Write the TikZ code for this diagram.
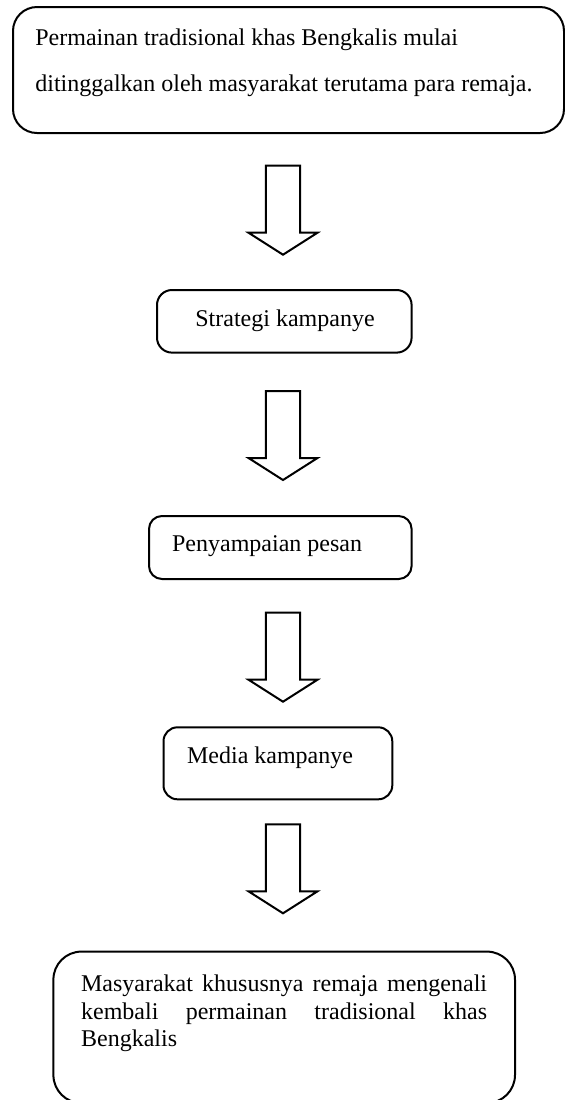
\documentclass[tikz,border=0pt]{standalone}
\usepackage{fontspec}
\setmainfont{Liberation Serif}
\usetikzlibrary{calc}
\tikzset{
  box/.style={draw=black, line width=1pt, fill=white, inner sep=0pt},
  txt/.style={inner sep=0pt, font={\fontsize{12}{13.75}\selectfont}},
  arrowline/.style={draw=black, line width=1pt, line join=miter, fill=white},
  downarrow/.pic={\path[arrowline] (-17.2,0) -- (17.2,0) -- (17.2,67) -- (34.5,67) -- (0,89) -- (-34.5,67) -- (-17.2,67) -- cycle;}
}
\begin{document}
\begin{tikzpicture}[x=0.5pt,y=-0.5pt]
\useasboundingbox (0,0) rectangle (565,1100);
\fill[white] (0,0) rectangle (565,1100);
% boxes
\node[box, minimum width=275.5pt, minimum height=63pt, rounded corners=12pt] (b1) at (288.5,70) {};
\node[box, minimum width=127.3pt, minimum height=31.3pt, rounded corners=7.5pt] (b2) at (284.3,321.3) {};
\node[box, minimum width=131.3pt, minimum height=31.5pt, rounded corners=6.5pt] (b3) at (280.3,547.5) {};
\node[box, minimum width=114.4pt, minimum height=36pt, rounded corners=7pt] (b4) at (277.9,763.3) {};
\node[box, minimum width=230.8pt, minimum height=75.7pt, rounded corners=14pt] (b5) at (284.2,1027.3) {};
% texts
\node[txt, anchor=base west, align=left, font={\fontsize{12}{23.25}\selectfont}] (t1) at (35,91.5)
  {Permainan tradisional khas Bengkalis mulai\\ditinggalkan oleh masyarakat terutama para remaja.};
\node[txt, anchor=base west] (t2) at (195,326.7) {Strategi kampanye};
\node[txt, anchor=base west] (t3) at (171.7,551.7) {Penyampaian pesan};
\node[txt, anchor=base west] (t4) at (186.7,763.3) {Media kampanye};
\node[txt, anchor=base west, align=left] (t5) at (80.7,1046.7)
  {\makebox[203pt][s]{Masyarakat khususnya remaja mengenali}\\
   \makebox[203pt][s]{kembali permainan tradisional khas}\\
   Bengkalis};
% block arrows
\coordinate (a1) at (283,165.7);
\coordinate (a2) at (283,391);
\coordinate (a3) at (283,612.7);
\coordinate (a4) at (283,824.3);
\pic at (a1) {downarrow};
\pic at (a2) {downarrow};
\pic at (a3) {downarrow};
\pic at (a4) {downarrow};
\end{tikzpicture}
\end{document}
